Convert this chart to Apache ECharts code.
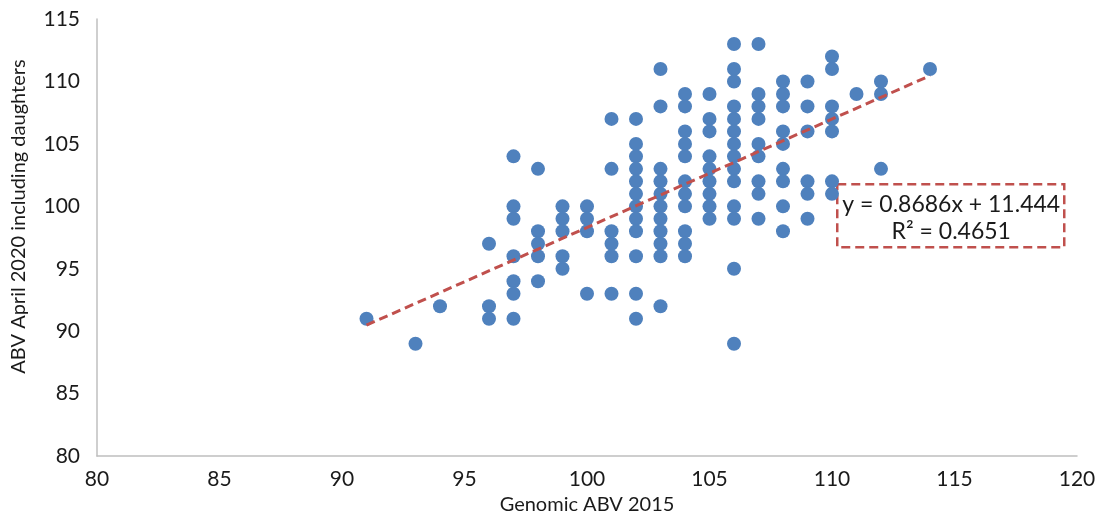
<!DOCTYPE html>
<html>
<head>
<meta charset="utf-8">
<script src="https://cdn.jsdelivr.net/npm/echarts@6/dist/echarts.min.js"></script>
<style>
  html, body { margin: 0; padding: 0; background: #fff; }
  #chart { width: 1104px; height: 520px; }
</style>
</head>
<body>
<div id="chart"></div>
<script>
// Genomic ABV 2015 (x) columns and the ABV April 2020 values seen in each column
var genomicCols = [91, 93, 94, 96, 97, 98, 99, 100, 101, 102, 103, 104, 105, 106, 107, 108, 109, 110, 111, 112, 114];
var abvByCol = [
    [91],
    [89],
    [92],
    [97, 92, 91],
    [104, 100, 99, 96, 94, 93, 91],
    [103, 98, 97, 96, 94],
    [100, 99, 98, 96, 95],
    [100, 99, 98, 93],
    [107, 103, 98, 97, 96, 93],
    [107, 105, 104, 103, 102, 101, 100, 99, 98, 96, 93, 91],
    [111, 108, 103, 102, 101, 100, 99, 98, 97, 96, 92],
    [109, 108, 106, 105, 104, 102, 101, 100, 98, 97, 96],
    [109, 107, 106, 104, 103, 102, 101, 100, 99],
    [113, 111, 110, 108, 107, 106, 105, 104, 103, 102, 100, 99, 95, 89],
    [113, 109, 108, 107, 105, 104, 102, 101, 99],
    [110, 109, 108, 106, 105, 103, 102, 100, 98],
    [110, 108, 106, 102, 101, 99],
    [112, 111, 108, 107, 106, 102, 101],
    [109],
    [110, 109, 103],
    [111]
];

// linear trendline as printed on the chart
var trendSlope = 0.8686;
var trendIntercept = 11.444;
var trendRange = [91, 114];
var equationLines = ['y = 0.8686x + 11.444', 'R\u00b2 = 0.4651'];

var fontName = 'Lato';
var textColor = '#1a1a1a';

var points = [];
genomicCols.forEach(function (x, i) {
    abvByCol[i].forEach(function (y) {
        points.push([x, y]);
    });
});

var trendData = trendRange.map(function (x) {
    return [x, trendSlope * x + trendIntercept];
});

var myChart = echarts.init(document.getElementById('chart'));

var option = {
    backgroundColor: '#fff',
    animation: false,
    grid: {
        left: 97,
        right: 27,
        top: 19,
        bottom: 62
    },
    xAxis: {
        type: 'value',
        min: 80,
        max: 120,
        interval: 5,
        name: 'Genomic ABV 2015',
        nameLocation: 'middle',
        nameGap: 37,
        nameTextStyle: { fontFamily: fontName, fontSize: 20, color: textColor },
        axisLine: { lineStyle: { color: '#bfbfbf', width: 1.5 } },
        axisTick: { show: false },
        splitLine: { show: false },
        axisLabel: { fontFamily: fontName, fontSize: 21, color: textColor, margin: 13 }
    },
    yAxis: {
        type: 'value',
        min: 80,
        max: 115,
        interval: 5,
        name: 'ABV April 2020 including daughters',
        nameLocation: 'middle',
        nameGap: 68,
        nameTextStyle: { fontFamily: fontName, fontSize: 20, color: textColor, padding: [0, 0, 0, 42] },
        axisLine: { show: true, lineStyle: { color: '#bfbfbf', width: 1.5 } },
        axisTick: { show: false },
        splitLine: { show: false },
        axisLabel: { fontFamily: fontName, fontSize: 21, color: textColor, margin: 17 }
    },
    series: [
        {
            type: 'scatter',
            data: points,
            symbolSize: 14,
            itemStyle: { color: '#4F81BD', opacity: 1 },
            z: 2
        },
        {
            type: 'line',
            data: trendData,
            symbol: 'none',
            lineStyle: { color: '#C0504D', width: 3, type: [9, 5] },
            z: 3
        }
    ],
    graphic: [
        {
            type: 'group',
            left: 836,
            top: 183,
            z: 10,
            children: [
                {
                    type: 'rect',
                    shape: { x: 0, y: 0, width: 227, height: 63 },
                    style: { fill: '#fff', stroke: '#C0504D', lineWidth: 2.5, lineDash: [9, 5] }
                },
                {
                    type: 'text',
                    x: 114, y: 20,
                    style: {
                        text: equationLines[0], fill: textColor,
                        font: '23px ' + fontName, align: 'center', verticalAlign: 'middle'
                    }
                },
                {
                    type: 'text',
                    x: 114, y: 47,
                    style: {
                        text: equationLines[1], fill: textColor,
                        font: '23px ' + fontName, align: 'center', verticalAlign: 'middle'
                    }
                }
            ]
        }
    ]
};

myChart.setOption(option);
</script>
</body>
</html>
